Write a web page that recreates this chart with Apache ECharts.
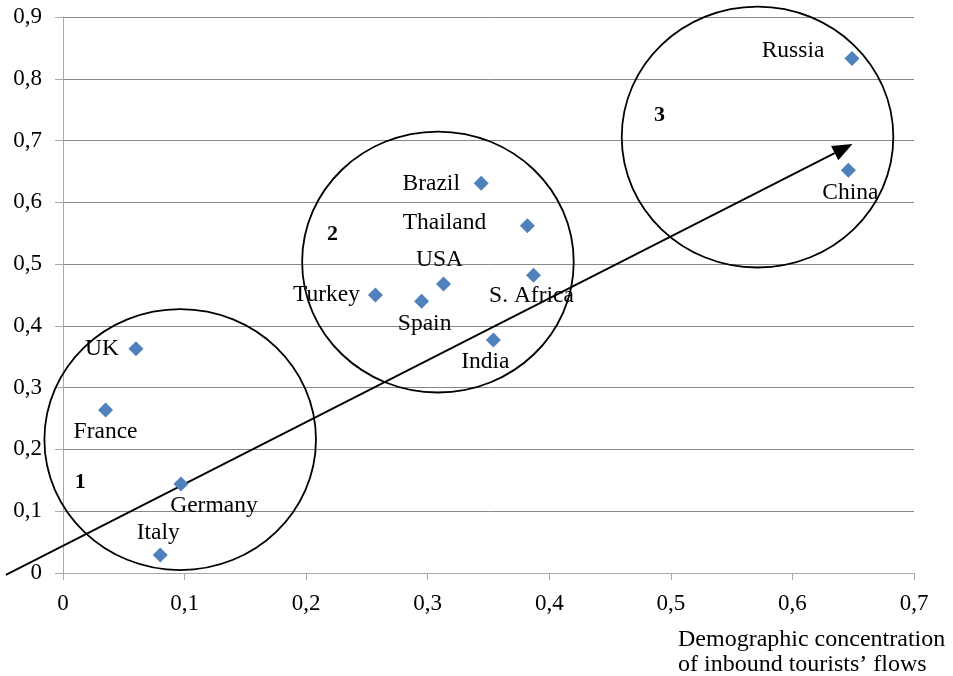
<!DOCTYPE html>
<html>
<head>
<meta charset="utf-8">
<script src="https://cdn.jsdelivr.net/npm/echarts@6/dist/echarts.min.js"></script>
<style>
html,body{margin:0;padding:0;background:#fff;}
#chart{width:953px;height:676px;}
</style>
</head>
<body>
<div id="chart"></div>
<script>
// ---- data ----
var countries = ['Russia','China','Brazil','Thailand','S. Africa','USA','Spain','Turkey','India','UK','France','Germany','Italy'];
var xValues = [0.649, 0.646, 0.344, 0.382, 0.387, 0.313, 0.295, 0.257, 0.354, 0.060, 0.035, 0.097, 0.080];
var yValues = [0.833, 0.652, 0.631, 0.562, 0.482, 0.468, 0.440, 0.450, 0.377, 0.363, 0.264, 0.144, 0.029];
var xTicks = [0, 0.1, 0.2, 0.3, 0.4, 0.5, 0.6, 0.7];
var yTicks = [0, 0.1, 0.2, 0.3, 0.4, 0.5, 0.6, 0.7, 0.8, 0.9];
var clusterNames = ['1', '2', '3'];
var clusterCenters = [[0.0964, 0.216], [0.3084, 0.5034], [0.5713, 0.7057]];
var clusterRadius = [0.1117, 0.2112];
var clusterLabelPos = [[0.0142, 0.1465], [0.2217, 0.5475], [0.4906, 0.7413]];
var trendStart = [-0.047, -0.003];
var trendEnd = [0.6494, 0.6944];
var xAxisTitle = 'Demographic concentration\nof inbound tourists\u2019 flows';

// ---- label layout (pixel offsets from the point) ----
var labelOffsets = {
  'Russia': [-59, -8], 'China': [2, 23], 'Brazil': [-50, 1], 'Thailand': [-83, -3],
  'S. Africa': [-2, 21], 'USA': [-4, -24], 'Spain': [3, 23], 'Turkey': [-49, 0],
  'India': [-8, 22], 'UK': [-34, 0], 'France': [0, 22], 'Germany': [33, 22], 'Italy': [-2, -22]
};

var FONT = '"Liberation Serif", "Times New Roman", serif';
var fmt = function (v) { return v === 0 ? '0' : v.toFixed(1).replace('.', ','); };

var chart = echarts.init(document.getElementById('chart'), null, {renderer: 'canvas'});

var pointData = countries.map(function (c, i) {
  return {name: c, value: [xValues[i], yValues[i]], label: {offset: labelOffsets[c]}};
});

var option = {
  backgroundColor: '#ffffff',
  animation: false,
  grid: {left: 63, right: 39, top: 17, bottom: 103, containLabel: false},
  xAxis: {
    type: 'value', min: xTicks[0], max: xTicks[xTicks.length - 1], interval: 0.1,
    axisLine: {show: true, lineStyle: {color: '#a8a8a8', width: 1}},
    axisTick: {show: true, length: 7, lineStyle: {color: '#a8a8a8'}},
    splitLine: {show: false},
    axisLabel: {color: '#000', fontFamily: FONT, fontSize: 23, margin: 19, formatter: fmt}
  },
  yAxis: {
    type: 'value', min: yTicks[0], max: yTicks[yTicks.length - 1], interval: 0.1,
    axisLine: {show: true, lineStyle: {color: '#a8a8a8', width: 1}},
    axisTick: {show: true, length: 8, lineStyle: {color: '#a8a8a8'}},
    splitLine: {show: true, lineStyle: {color: '#888888', width: 1}},
    axisLabel: {color: '#000', fontFamily: FONT, fontSize: 23, margin: 21, formatter: fmt}
  },
  graphic: [{
    type: 'text', left: 678, top: 627,
    style: {text: xAxisTitle, font: '24px ' + FONT, fill: '#000', lineHeight: 25}
  }],
  series: [
    {
      type: 'custom', name: 'clusters', z: 3, clip: false,
      data: clusterCenters,
      renderItem: function (params, api) {
        var c = api.coord([api.value(0), api.value(1)]);
        var s = api.size(clusterRadius);
        return {type: 'ellipse', shape: {cx: c[0], cy: c[1], rx: s[0], ry: s[1]},
          style: {fill: 'none', stroke: '#000', lineWidth: 1.8}};
      }
    },
    {
      type: 'custom', name: 'clusterNumbers', z: 4, clip: false,
      data: clusterLabelPos.map(function (p, i) { return {value: p, name: clusterNames[i]}; }),
      renderItem: function (params, api) {
        var c = api.coord([api.value(0), api.value(1)]);
        return {type: 'text', x: c[0], y: c[1],
          style: {text: clusterNames[params.dataIndex], font: 'bold 22px ' + FONT, fill: '#000',
            align: 'center', verticalAlign: 'middle'}};
      }
    },
    {
      type: 'custom', name: 'trend', z: 5, clip: false,
      data: [[trendStart[0], trendStart[1], trendEnd[0], trendEnd[1]]],
      renderItem: function (params, api) {
        var a = api.coord([api.value(0), api.value(1)]);
        var b = api.coord([api.value(2), api.value(3)]);
        var dx = b[0] - a[0], dy = b[1] - a[1];
        var len = Math.sqrt(dx * dx + dy * dy);
        var ux = dx / len, uy = dy / len;
        var hl = 20, hw = 8;
        var bx = b[0] - ux * hl, by = b[1] - uy * hl;
        return {type: 'group', children: [
          {type: 'line', shape: {x1: a[0], y1: a[1], x2: bx, y2: by},
            style: {stroke: '#000', lineWidth: 1.8}},
          {type: 'polygon', shape: {points: [[b[0], b[1]], [bx - uy * hw, by + ux * hw], [bx + uy * hw, by - ux * hw]]},
            style: {fill: '#000'}}
        ]};
      }
    },
    {
      type: 'scatter', name: 'countries', z: 6,
      symbol: 'diamond', symbolSize: 15,
      itemStyle: {color: '#4f81bd', opacity: 1},
      label: {show: true, position: 'inside', formatter: '{b}', color: '#000',
        textBorderWidth: 0, textBorderColor: 'transparent',
        fontFamily: FONT, fontSize: 23.5, align: 'center', verticalAlign: 'middle'},
      emphasis: {disabled: true},
      data: pointData
    }
  ]
};
chart.setOption(option);
</script>
</body>
</html>
